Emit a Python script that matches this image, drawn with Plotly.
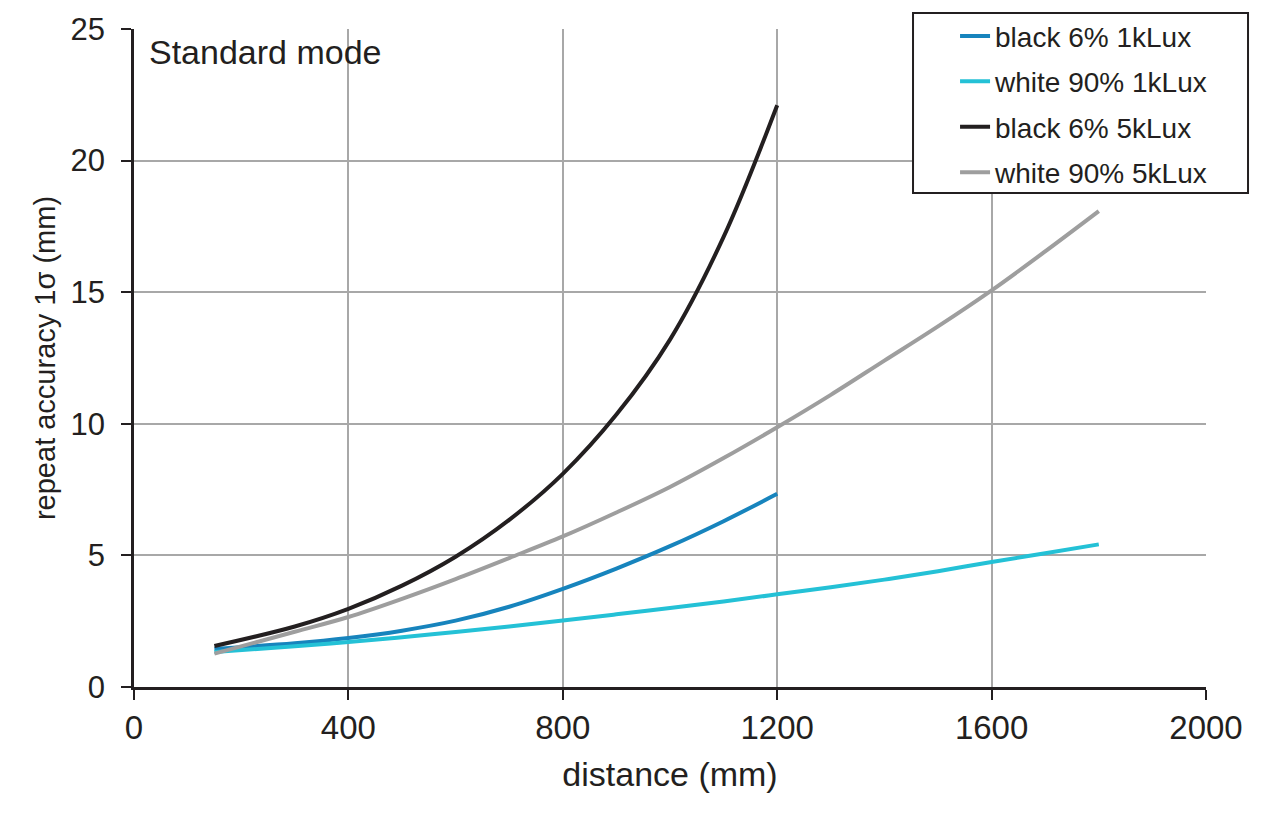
"""Repeat accuracy vs. distance, standard mode."""

import plotly.graph_objects as go

DISTANCE = [150, 300, 400, 500, 600, 700, 800, 900, 1000, 1100, 1200,
            1300, 1400, 1500, 1600, 1700, 1800]

BLACK_1K = [1.45, 1.66, 1.86, 2.14, 2.52, 3.05, 3.73, 4.5, 5.35, 6.3, 7.34]
WHITE_1K = [1.33, 1.55, 1.71, 1.89, 2.09, 2.3, 2.53, 2.76, 3.0, 3.25, 3.52,
            3.79, 4.08, 4.4, 4.75, 5.08, 5.42]
BLACK_5K = [1.56, 2.3, 2.97, 3.85, 4.95, 6.35, 8.1, 10.35, 13.2, 17.1, 22.1]
WHITE_5K = [1.27, 2.1, 2.66, 3.35, 4.1, 4.9, 5.72, 6.63, 7.6, 8.7, 9.87,
            11.1, 12.4, 13.7, 15.07, 16.55, 18.08]

X_TICKS = [0, 400, 800, 1200, 1600, 2000]
Y_TICKS = [0, 5, 10, 15, 20, 25]

SERIES = [
    ("black 6% 1kLux", DISTANCE[:11], BLACK_1K, "#1784bd"),
    ("white 90% 1kLux", DISTANCE, WHITE_1K, "#24c1d6"),
    ("black 6% 5kLux", DISTANCE[:11], BLACK_5K, "#231f20"),
    ("white 90% 5kLux", DISTANCE, WHITE_5K, "#9e9e9e"),
]

FONT = "Liberation Sans, Arial, sans-serif"
INK = "#231f20"

fig = go.Figure()
for i, (name, xs, ys, color) in enumerate(SERIES):
    fig.add_trace(go.Scatter(
        x=xs, y=ys, name=name, mode="lines",
        line=dict(color=color, width=4, shape="spline", smoothing=1.0),
        legendgroup=f"g{i}",
    ))

# legend frame drawn as a shape so the padding can match the original
fig.add_shape(
    type="rect", xref="paper", yref="paper",
    x0=0.7267, x1=1.0392, y0=0.7508, y1=1.0243,
    line=dict(color=INK, width=2), fillcolor="white", layer="above",
)

fig.add_annotation(
    text="Standard mode", xref="paper", yref="paper",
    x=0.012, y=0.997, xanchor="left", yanchor="top",
    showarrow=False, font=dict(size=34, color=INK, family=FONT),
)

axis_style = dict(
    showgrid=True, gridcolor="#a8a8a8", gridwidth=1.5,
    showline=True, linecolor=INK, linewidth=2.5,
    ticks="outside", ticklen=10, tickwidth=2, tickcolor=INK,
    zeroline=False, automargin=False,
)

fig.update_layout(
    width=1280, height=832,
    margin=dict(l=126, r=82, t=21, b=153, autoexpand=False),
    paper_bgcolor="white", plot_bgcolor="white",
    font=dict(family=FONT, color=INK, size=27),
    showlegend=True,
    legend=dict(
        x=0.7659, y=1.027, xanchor="left", yanchor="top",
        bgcolor="rgba(0,0,0,0)", borderwidth=0,
        font=dict(size=28, color=INK),
        tracegroupgap=6, itemwidth=30,
    ),
    xaxis=dict(
        range=[0, 2000], tickvals=X_TICKS,
        tickfont=dict(size=33, color=INK, family=FONT),
        title=dict(text="distance (mm)", standoff=17,
                   font=dict(size=34, color=INK, family=FONT)),
        **axis_style,
    ),
    yaxis=dict(
        range=[0, 25], tickvals=Y_TICKS,
        tickfont=dict(size=31, color=INK, family=FONT),
        ticklabelstandoff=10,
        title=dict(text="repeat accuracy 1σ (mm)", standoff=7,
                   font=dict(size=29, color=INK, family=FONT)),
        **axis_style,
    ),
)

fig.write_html("out.html")
